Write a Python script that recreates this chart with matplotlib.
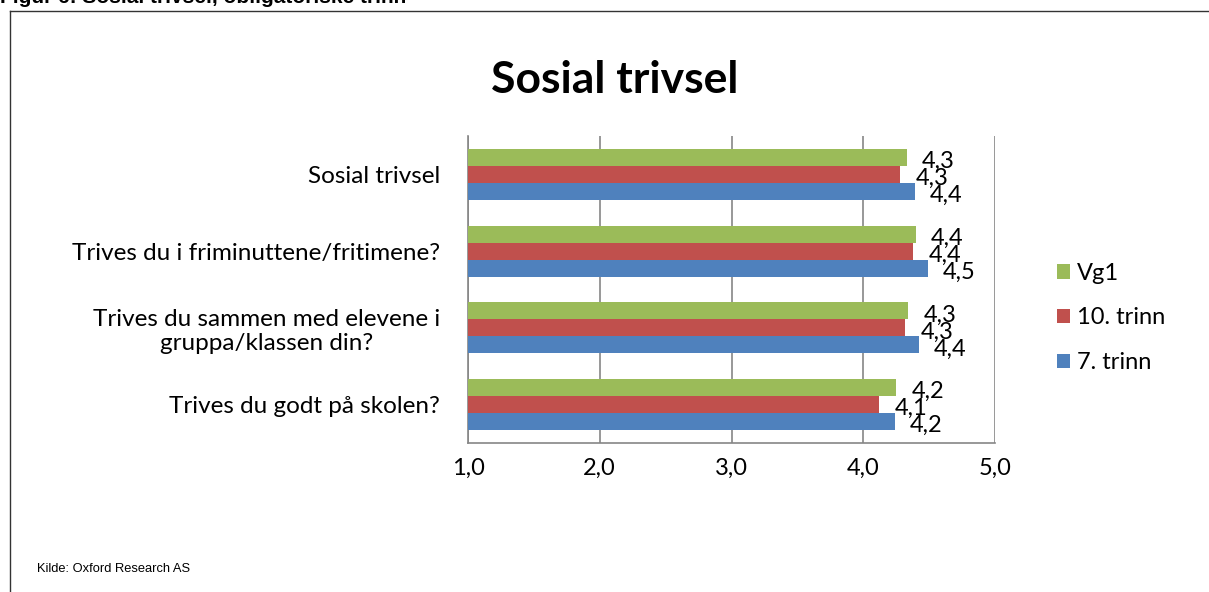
import matplotlib
matplotlib.use("Agg")
import matplotlib.pyplot as plt
import numpy as np
from matplotlib.lines import Line2D

categories = ["Trives du godt på skolen?",
              "Trives du sammen med elevene i\ngruppa/klassen din?",
              "Trives du i friminuttene/fritimene?",
              "Sosial trivsel"]
series_names = ["7. trinn", "10. trinn", "Vg1"]
trinn7 = [4.24, 4.42, 4.49, 4.39]
trinn10 = [4.12, 4.32, 4.38, 4.28]
vg1 = [4.25, 4.34, 4.40, 4.33]
labels7 = ["4,2", "4,4", "4,5", "4,4"]
labels10 = ["4,1", "4,3", "4,4", "4,3"]
labelsvg1 = ["4,2", "4,3", "4,4", "4,3"]
xticks = [1.0, 2.0, 3.0, 4.0, 5.0]
xticklabels = ["1,0", "2,0", "3,0", "4,0", "5,0"]
title = "Sosial trivsel"
header = "Figur 6: Sosial trivsel, obligatoriske trinn"
source = "Kilde: Oxford Research AS"

colors = ["#4F81BD", "#C0504D", "#9BBB59"]
W, H = 1209, 592
fig = plt.figure(figsize=(W / 100, H / 100), dpi=100)
FONT = ["Lato", "DejaVu Sans"]
FS = 17

ax = fig.add_axes([468 / W, 1 - 443 / H, (995 - 468) / W, (443 - 136) / H])
y = np.arange(len(categories))
bh = 0.222
all_vals = [trinn7, trinn10, vg1]
all_labels = [labels7, labels10, labelsvg1]
for i, (vals, labs) in enumerate(zip(all_vals, all_labels)):
    pos = y + (i - 1) * bh
    ax.barh(pos, np.array(vals) - 1.0, left=1.0, height=bh, color=colors[i],
            label=series_names[i], zorder=3, edgecolor="none")
    for p, v, lab in zip(pos, vals, labs):
        ax.annotate(lab, (v, p), xytext=(11, -3), textcoords="offset points",
                    ha="left", va="center", fontsize=FS, family=FONT, color="black", zorder=4)

ax.set_xlim(1.0, 5.0)
ax.set_ylim(-0.5, len(categories) - 0.5)
ax.set_xticks(xticks)
ax.set_xticklabels(xticklabels, family=FONT, fontsize=FS)
ax.tick_params(axis="x", length=0, pad=11)
ax.set_yticks(y)
ax.set_yticklabels(categories, family=FONT, fontsize=17.5, multialignment="center")
ax.tick_params(axis="y", length=0, pad=20)
ax.grid(axis="x", color="#868686", linewidth=1.2, zorder=0)
for s in ["top", "right"]:
    ax.spines[s].set_visible(False)
for s in ["left", "bottom"]:
    ax.spines[s].set_color("#868686")
    ax.spines[s].set_linewidth(1.2)

handles, labs = ax.get_legend_handles_labels()
leg = fig.legend(handles[::-1], labs[::-1], loc="center left",
                 bbox_to_anchor=(1036 / W, 1 - 318 / H), frameon=False,
                 prop={"family": FONT, "size": FS}, handlelength=0.55, handleheight=0.55,
                 handletextpad=0.3, labelspacing=1.0)

fig.text(615 / W, 1 - 80 / H, title, ha="center", va="center", fontsize=32,
         fontweight="bold", family=FONT)
fig.text(0, 1 - 3 / H, header, ha="left", va="baseline", fontsize=15,
         fontweight="bold", family=["Liberation Sans", "DejaVu Sans"])
fig.text(37 / W, 1 - 569 / H, source, ha="left", va="center", fontsize=9.3,
         family=["Liberation Sans", "DejaVu Sans"])

fig.add_artist(Line2D([9.5 / W, 9.5 / W], [0, 1 - 11 / H], transform=fig.transFigure,
                      color="#333333", linewidth=1))
fig.add_artist(Line2D([9.5 / W, 1], [1 - 11 / H, 1 - 11 / H], transform=fig.transFigure,
                      color="#333333", linewidth=1))

fig.savefig("out.png", dpi=100)
